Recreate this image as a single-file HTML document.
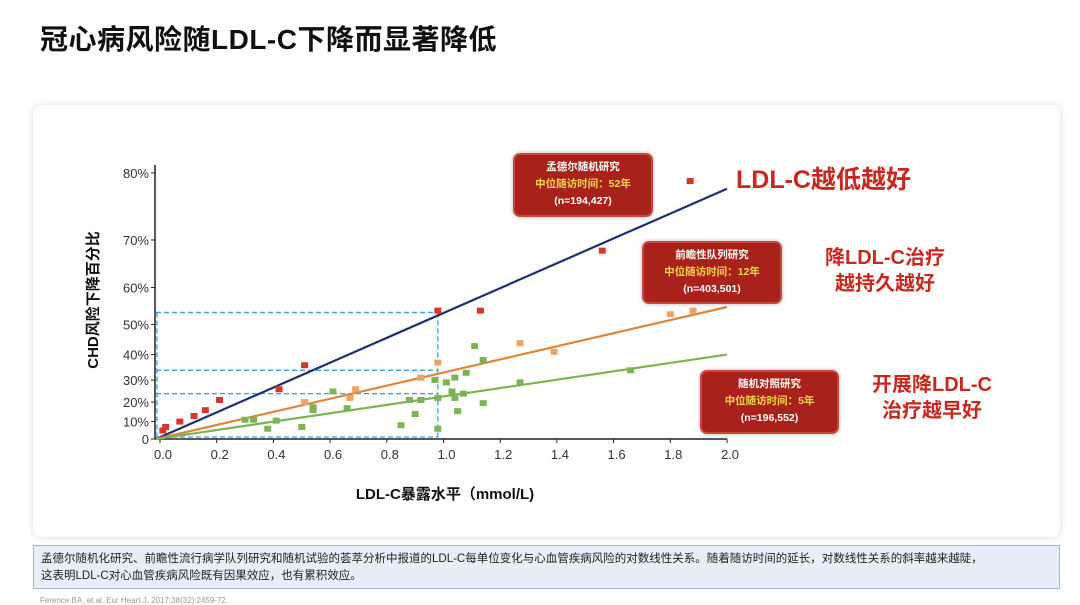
<!DOCTYPE html>
<html><head><meta charset="utf-8">
<style>
body{margin:0;width:1080px;height:602px;background:#fff;font-family:"Liberation Sans","Noto Sans CJK SC",sans-serif;position:relative;overflow:hidden}
.title{position:absolute;left:40px;top:18px;font-size:28px;font-weight:bold;color:#111;letter-spacing:0.5px}
.card{position:absolute;left:33px;top:105px;width:1027px;height:432px;background:#fff;border-radius:8px;box-shadow:0 0 8px rgba(0,0,0,0.15)}
.note{position:absolute;left:33px;top:545px;width:1027px;height:44px;background:#e6eef8;border:1px solid #9fb8dc;box-sizing:border-box;font-size:11.5px;color:#222;padding:5px 7px;line-height:17px}
.ref{position:absolute;left:40px;top:596px;font-size:8px;color:#999}
.box{position:absolute;background:#a8221b;border:2px solid #c8483e;border-radius:7px;box-sizing:border-box;color:#fff;text-align:center;font-size:10.5px;font-weight:bold;line-height:17px;padding-top:4px;box-shadow:0 0 4px rgba(0,0,0,.3)}
.box .y{color:#f6d64a}
.big{position:absolute;color:#c8281e;font-weight:bold;text-align:center}
</style></head><body>
<div class="title">冠心病风险随LDL-C下降而显著降低</div>
<div class="card"></div>
<svg id="chart" width="1080" height="602" style="position:absolute;left:0;top:0"></svg>
<div class="box" style="left:513px;top:153px;width:140px;height:64px">孟德尔随机研究<br><span class="y">中位随访时间：52年</span><br>(n=194,427)</div>
<div class="box" style="left:642px;top:241px;width:140px;height:63px">前瞻性队列研究<br><span class="y">中位随访时间：12年</span><br>(n=403,501)</div>
<div class="box" style="left:700px;top:370px;width:139px;height:64px">随机对照研究<br><span class="y">中位随访时间：5年</span><br>(n=196,552)</div>
<div class="big" style="left:736px;top:160px;font-size:25px">LDL-C越低越好</div>
<div class="big" style="left:815px;top:245px;width:140px;font-size:20px;line-height:26px">降LDL-C治疗<br>越持久越好</div>
<div class="big" style="left:862px;top:372px;width:140px;font-size:20px;line-height:26px">开展降LDL-C<br>治疗越早好</div>
<div class="note">孟德尔随机化研究、前瞻性流行病学队列研究和随机试验的荟萃分析中报道的LDL-C每单位变化与心血管疾病风险的对数线性关系。随着随访时间的延长，对数线性关系的斜率越来越陡，<br>这表明LDL-C对心血管疾病风险既有因果效应，也有累积效应。</div>
<div class="ref">Ference BA, et al. Eur Heart J. 2017;38(32):2459-72.</div>
<script>
const xTicks=[0,0.2,0.4,0.6,0.8,1.0,1.2,1.4,1.6,1.8,2.0];
const yTicks=[0,10,20,30,40,50,60,70,80];
const lineEndBlue=78, lineEndOrange=55, lineEndGreen=40;
const redX=[0.01,0.02,0.07,0.12,0.16,0.21,0.42,0.51,0.98,1.13,1.56,1.87];
const redY=[5,7,10,13,16,21,26,36,54,54,68,79];
const orangeX=[0.51,0.67,0.69,0.92,0.98,1.27,1.39,1.80,1.88];
const orangeY=[20,22,26,31,37,44,41,53,54];
const greenX=[0.30,0.33,0.38,0.41,0.50,0.54,0.54,0.61,0.66,0.85,0.88,0.90,0.92,0.97,0.98,0.98,1.01,1.03,1.04,1.04,1.05,1.07,1.08,1.11,1.14,1.14,1.27,1.66];
const greenY=[11,11,6,10.5,7,16,17.5,25,17,8,21,14,21,30,22,6,29,25,31,22,15.5,24,33,43,38,19.5,29,34];
const guideX=0.98, guideLevels=[53.5,34,24];
const X0=160,X1=727,Y0=439,K=165.3;
const sx=v=>X0+(X1-X0)*v/2;
const sy=p=>Y0+K*Math.log(1-p/100);
const svg=document.getElementById('chart');const NS='http://www.w3.org/2000/svg';
function mk(t,a,txt){const e=document.createElementNS(NS,t);for(const k in a)e.setAttribute(k,a[k]);if(txt!==undefined)e.textContent=txt;svg.appendChild(e);return e;}
// guides
guideLevels.forEach(l=>{const e=mk('line',{x1:156,x2:sx(guideX),y1:sy(l),y2:sy(l),stroke:'#3aa0e0','stroke-width':1.3,'stroke-dasharray':'5,3'});

});
let g=mk('line',{x1:sx(guideX),x2:sx(guideX),y1:sy(guideLevels[0]),y2:Y0,stroke:'#3aa0e0','stroke-width':1.3,'stroke-dasharray':'5,3'});


g=mk('line',{x1:157,x2:157,y1:sy(guideLevels[0]),y2:Y0,stroke:'#3aa0e0','stroke-width':1.3,'stroke-dasharray':'5,3'});


g=mk('line',{x1:156,x2:sx(guideX),y1:Y0-2,y2:Y0-2,stroke:'#3aa0e0','stroke-width':1.3,'stroke-dasharray':'5,3'});


// axes
let a=mk('line',{x1:155,x2:155,y1:165,y2:Y0,stroke:'#222','stroke-width':1.5});


a=mk('line',{x1:155,x2:X1,y1:Y0,y2:Y0,stroke:'#222','stroke-width':1.5});


xTicks.forEach(v=>{mk('line',{x1:sx(v),x2:sx(v),y1:Y0,y2:Y0+4,stroke:'#222'});
const t=mk('text',{x:sx(v)+3,y:Y0+20,'font-size':13,'text-anchor':'middle',fill:'#333'},v.toFixed(1));

});
yTicks.forEach(v=>{mk('line',{x1:151,x2:155,y1:sy(v),y2:sy(v),stroke:'#222'});
const t=mk('text',{x:149,y:sy(v)+5,'font-size':13,'text-anchor':'end',fill:'#333'},v===0?'0':v+'%');

});
// lines
[[lineEndBlue,'#1f2f6e','line-mendelian'],[lineEndOrange,'#e0853c','line-cohort'],[lineEndGreen,'#7db553','line-rct']].forEach(([p,c,n])=>{
const l=mk('line',{x1:156,y1:Y0,x2:sx(2),y2:sy(p),stroke:c,'stroke-width':2.2});

});
function pts(xs,ys,c,n){xs.forEach((x,i)=>{const r=mk('rect',{x:sx(x)-3.5,y:sy(ys[i])-3,width:7,height:6,fill:c});

});}
pts(greenX,greenY,'#7cb452','point-rct');
pts(orangeX,orangeY,'#f0a260','point-cohort');
pts(redX,redY,'#d8352b','point-mendelian');
let t=mk('text',{x:445,y:499,'font-size':15,'font-weight':'bold','text-anchor':'middle',fill:'#111'},'LDL-C暴露水平（mmol/L)');


t=mk('text',{x:0,y:0,'font-size':15,'font-weight':'bold','text-anchor':'middle',fill:'#111',transform:'translate(98,300) rotate(-90)'},'CHD风险下降百分比');


</script>
</body></html>
